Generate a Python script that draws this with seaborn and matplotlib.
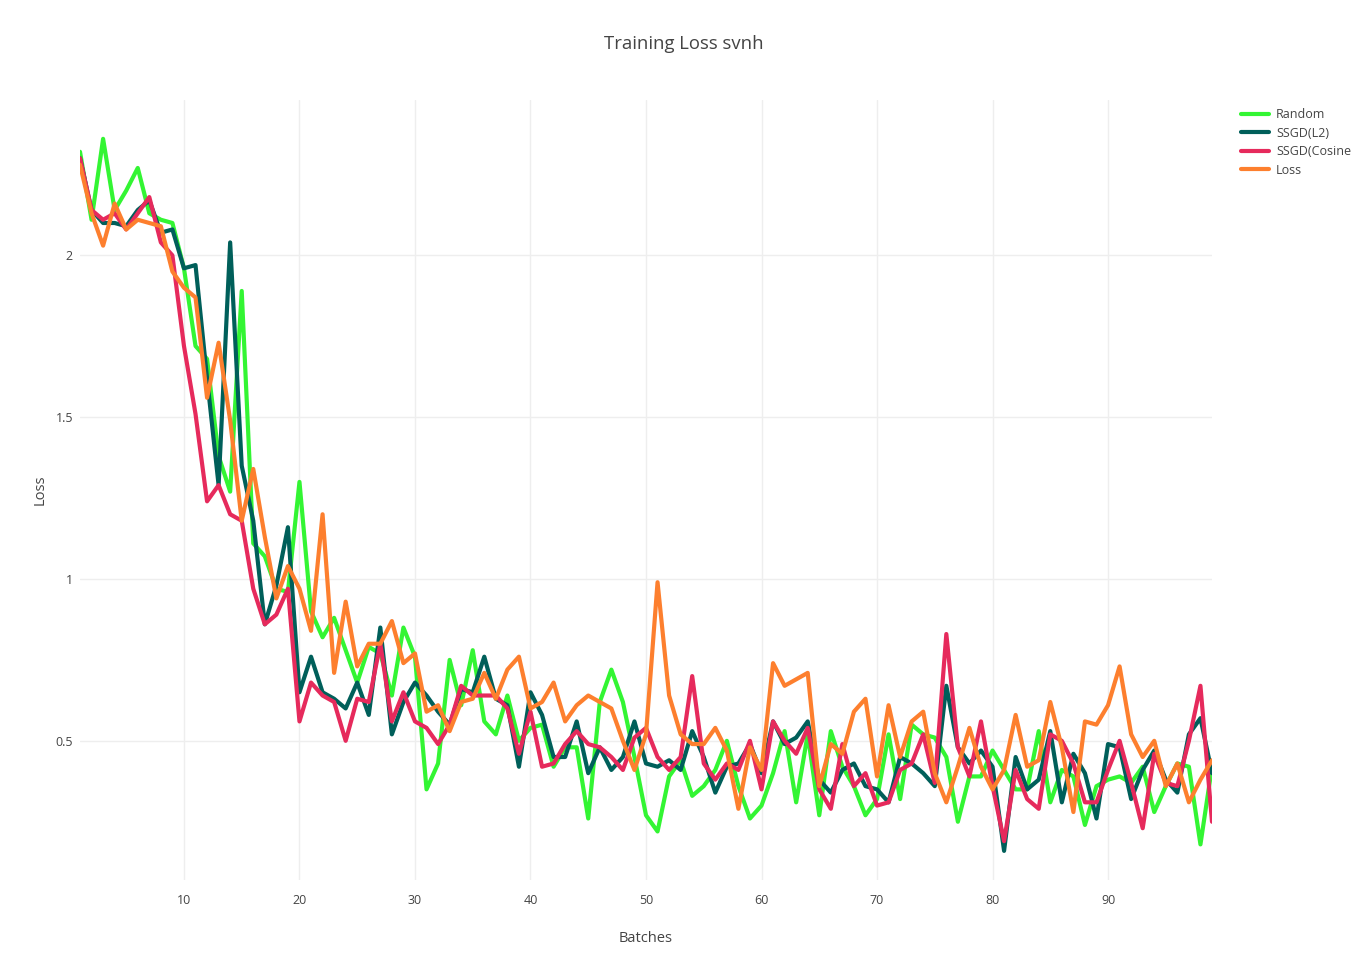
import matplotlib
matplotlib.use("Agg")
import matplotlib.pyplot as plt
import seaborn as sns
import pandas as pd

# values, batches 1..99
batches = list(range(1, 100))

random_loss = [2.32, 2.11, 2.36, 2.14, 2.20, 2.27, 2.13, 2.11, 2.10, 1.96,
               1.72, 1.68, 1.38, 1.27, 1.89, 1.11, 1.07, 0.97, 0.96, 1.30,
               0.90, 0.82, 0.88, 0.78, 0.68, 0.79, 0.77, 0.64, 0.85, 0.76,
               0.35, 0.43, 0.75, 0.61, 0.78, 0.56, 0.52, 0.64, 0.50, 0.54,
               0.55, 0.42, 0.48, 0.48, 0.26, 0.62, 0.72, 0.62, 0.45, 0.27,
               0.22, 0.39, 0.44, 0.33, 0.36, 0.41, 0.50, 0.36, 0.26, 0.30,
               0.40, 0.53, 0.31, 0.52, 0.27, 0.53, 0.42, 0.36, 0.27, 0.32,
               0.52, 0.32, 0.55, 0.52, 0.51, 0.45, 0.25, 0.39, 0.39, 0.47,
               0.41, 0.35, 0.35, 0.53, 0.31, 0.41, 0.39, 0.24, 0.36, 0.38,
               0.39, 0.37, 0.42, 0.28, 0.36, 0.43, 0.42, 0.18, 0.42]

ssgd_l2 = [2.30, 2.14, 2.10, 2.10, 2.09, 2.14, 2.17, 2.07, 2.08, 1.96,
           1.97, 1.62, 1.29, 2.04, 1.35, 1.18, 0.86, 0.98, 1.16, 0.65,
           0.76, 0.65, 0.63, 0.60, 0.68, 0.58, 0.85, 0.52, 0.62, 0.68,
           0.64, 0.59, 0.55, 0.66, 0.65, 0.76, 0.63, 0.61, 0.42, 0.65,
           0.58, 0.45, 0.45, 0.56, 0.40, 0.48, 0.41, 0.45, 0.56, 0.43,
           0.42, 0.44, 0.41, 0.53, 0.45, 0.34, 0.42, 0.43, 0.49, 0.40,
           0.56, 0.49, 0.51, 0.56, 0.38, 0.34, 0.41, 0.43, 0.36, 0.35,
           0.31, 0.45, 0.43, 0.40, 0.36, 0.67, 0.48, 0.43, 0.47, 0.42,
           0.16, 0.45, 0.35, 0.38, 0.53, 0.31, 0.46, 0.40, 0.26, 0.49,
           0.48, 0.32, 0.41, 0.47, 0.38, 0.34, 0.52, 0.57, 0.40]

ssgd_cos = [2.30, 2.14, 2.11, 2.13, 2.08, 2.13, 2.18, 2.04, 2.00, 1.72,
            1.51, 1.24, 1.29, 1.20, 1.18, 0.97, 0.86, 0.89, 0.97, 0.56,
            0.68, 0.64, 0.62, 0.50, 0.63, 0.62, 0.80, 0.56, 0.65, 0.56,
            0.54, 0.49, 0.55, 0.67, 0.64, 0.64, 0.64, 0.60, 0.46, 0.59,
            0.42, 0.43, 0.49, 0.53, 0.49, 0.48, 0.45, 0.41, 0.51, 0.54,
            0.45, 0.41, 0.45, 0.70, 0.43, 0.38, 0.43, 0.41, 0.50, 0.35,
            0.56, 0.50, 0.46, 0.54, 0.35, 0.29, 0.49, 0.36, 0.40, 0.30,
            0.31, 0.41, 0.43, 0.52, 0.37, 0.83, 0.48, 0.39, 0.56, 0.36,
            0.19, 0.41, 0.32, 0.29, 0.52, 0.50, 0.43, 0.31, 0.31, 0.41,
            0.50, 0.37, 0.23, 0.46, 0.37, 0.36, 0.50, 0.67, 0.25]

plain_loss = [2.28, 2.13, 2.03, 2.16, 2.08, 2.11, 2.10, 2.09, 1.95, 1.90,
              1.87, 1.56, 1.73, 1.49, 1.18, 1.34, 1.13, 0.94, 1.04, 0.97,
              0.84, 1.20, 0.71, 0.93, 0.73, 0.80, 0.80, 0.87, 0.74, 0.77,
              0.59, 0.61, 0.53, 0.62, 0.63, 0.71, 0.63, 0.72, 0.76, 0.60,
              0.62, 0.68, 0.56, 0.61, 0.64, 0.62, 0.60, 0.50, 0.41, 0.52,
              0.99, 0.64, 0.52, 0.49, 0.49, 0.54, 0.47, 0.29, 0.48, 0.41,
              0.74, 0.67, 0.69, 0.71, 0.36, 0.49, 0.46, 0.59, 0.63, 0.39,
              0.61, 0.45, 0.56, 0.59, 0.40, 0.31, 0.42, 0.54, 0.42, 0.35,
              0.41, 0.58, 0.42, 0.44, 0.62, 0.48, 0.28, 0.56, 0.55, 0.61,
              0.73, 0.52, 0.45, 0.50, 0.36, 0.43, 0.31, 0.38, 0.44]

series_names = ["Random", "SSGD(L2)", "SSGD(Cosine", "Loss"]
series_colors = ["#33f533", "#005f5a", "#e62a5c", "#fd7f2e"]

frames = []
for name, vals in zip(series_names, [random_loss, ssgd_l2, ssgd_cos, plain_loss]):
    frames.append(pd.DataFrame({"Batches": batches, "Loss": vals, "series": name}))
df = pd.concat(frames, ignore_index=True)

sns.set_style("white")
plt.rcParams["font.family"] = ["Open Sans", "DejaVu Sans"]

fig = plt.figure(figsize=(13.68, 9.71), dpi=100)
ax = fig.add_axes([80 / 1368, 91 / 971, 1132 / 1368, 780 / 971])

sns.lineplot(data=df, x="Batches", y="Loss", hue="series", hue_order=series_names,
             palette=series_colors, linewidth=3, sort=False, ax=ax, legend=False)

ax.set_xlim(1, 99)
ax.set_ylim(0.07, 2.48)
ax.set_xticks([10, 20, 30, 40, 50, 60, 70, 80, 90])
ax.set_yticks([0.5, 1, 1.5, 2])
ax.set_yticklabels(["0.5", "1", "1.5", "2"])
ax.grid(True, color="#eeeeee", linewidth=1)
ax.set_axisbelow(True)
for s in ax.spines.values():
    s.set_visible(False)
ax.tick_params(length=0, labelsize=9, colors="#444444")
ax.tick_params(axis="x", pad=10)
ax.tick_params(axis="y", pad=5)

ax.set_xlabel("Batches", fontsize=10.5, color="#444444", labelpad=17)
ax.set_ylabel("Loss", fontsize=10.5, color="#444444", labelpad=6)
fig.text(684 / 1368, 1 - 44 / 971, "Training Loss svnh", ha="center", va="center",
         fontsize=13.3, color="#444444")

handles = [plt.Line2D([], [], color=c, linewidth=3) for c in series_colors]
fig.legend(handles, series_names, loc="upper left",
           bbox_to_anchor=(1236 / 1368, 1 - 103 / 971), frameon=False,
           fontsize=9, handlelength=2.2, labelspacing=0.45, handletextpad=0.6,
           labelcolor="#444444", borderaxespad=0)

fig.savefig("out.png", dpi=100)
